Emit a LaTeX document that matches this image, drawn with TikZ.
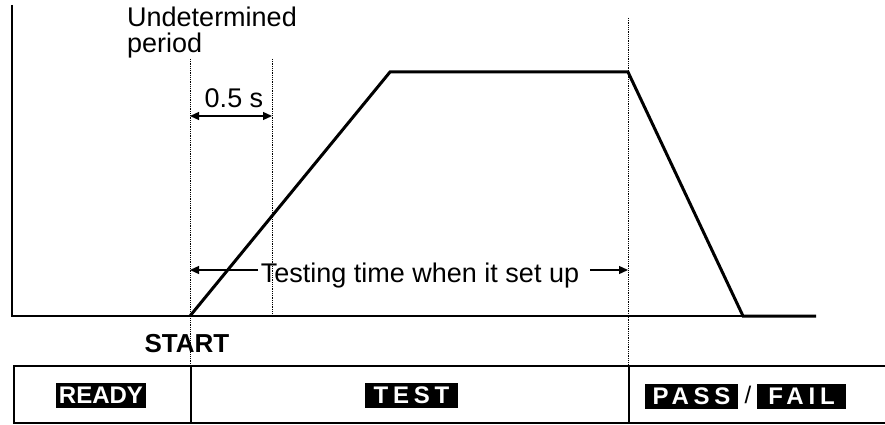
\documentclass[tikz,border=0pt]{standalone}
\usepackage{fontspec}
\setmainfont{Liberation Sans}
\usetikzlibrary{arrows.meta}
\begin{document}
\begin{tikzpicture}[x=1pt,y=-1pt,
  axis/.style={line width=2pt},
  wave/.style={line width=3pt, line join=miter},
  guide/.style={line width=0.8pt, densely dotted},
  dim/.style={line width=1.3pt, {Triangle[length=9pt,width=8pt]}-{Triangle[length=9pt,width=8pt]}},
  onearrow/.style={line width=1.3pt, -{Triangle[length=9pt,width=8pt]}},
  lbl/.style={inner sep=0pt, font=\fontsize{27}{26.5}\selectfont},
  boldlbl/.style={inner sep=0pt, font=\fontsize{26}{30}\selectfont\bfseries},
  tag/.style={fill=black, text=white, inner sep=0pt, minimum height=25pt,
    font=\fontsize{24}{26}\selectfont\bfseries},
  spaced/.style={font=\fontsize{24}{26}\selectfont\bfseries\addfontfeature{LetterSpace=20}},
  tableline/.style={line width=1.6pt}
]
\useasboundingbox (0,0) rectangle (885,425);

% axes and waveform
\coordinate (axtop) at (12,5);
\coordinate (orig) at (12,316);
\coordinate (axend) at (816,316);
\coordinate (w0) at (190,316);
\coordinate (w1) at (390,72);
\coordinate (w2) at (628,72);
\coordinate (w3) at (743,316);
\coordinate (w4) at (816,316);
\draw[axis] (axtop) -- (orig) -- (axend);
\draw[wave] (w0) -- (w1) -- (w2) -- (w3) -- (w4);

% guide lines
\coordinate (g1t) at (190,59);
\coordinate (g1b) at (190,366);
\coordinate (g2t) at (272,59);
\coordinate (g2b) at (272,316);
\coordinate (g3t) at (628,18);
\coordinate (g3b) at (628,366);
\draw[guide] (g1t) -- (g1b);
\draw[guide] (g2t) -- (g2b);
\draw[guide] (g3t) -- (g3b);

% labels
\node[lbl, anchor=base west, align=left] (und) at (127,53) {Undetermined\\period};
\node[lbl, anchor=base] (half) at (234,108) {0.5 s};
\coordinate (d1a) at (190,116);
\coordinate (d1b) at (272,116);
\draw[dim] (d1a) -- (d1b);

\node[lbl, anchor=base] (tt) at (420,282) {Testing time when it set up};
\coordinate (ta) at (190,270);
\coordinate (tl) at (258,270);
\coordinate (tr) at (590,270);
\coordinate (tb) at (628,270);
\draw[onearrow] (tl) -- (ta);
\draw[onearrow] (tr) -- (tb);

\node[boldlbl, anchor=base] (start) at (187,352) {START};

% status table
\coordinate (tl1) at (14,366);
\coordinate (tr1) at (885,366);
\coordinate (tl2) at (14,423);
\coordinate (tr2) at (885,423);
\coordinate (c1t) at (191,366);
\coordinate (c1b) at (191,423);
\coordinate (c2t) at (629,366);
\coordinate (c2b) at (629,423);
\draw[tableline] (tr1) -- (tl1) -- (tl2) -- (tr2);
\draw[tableline] (c1t) -- (c1b);
\draw[tableline] (c2t) -- (c2b);

\node[tag, minimum width=90pt] (ready) at (101,395) {READY};
\node[tag, spaced, minimum width=93pt] (test) at (411.5,395) {TEST};
\node[tag, spaced, minimum width=93pt] (pass) at (691.5,396) {PASS};
\node[inner sep=0pt, font=\fontsize{24}{26}\selectfont] (slash) at (748,395) {/};
\node[tag, spaced, minimum width=89pt] (fail) at (801.5,396) {FAIL};
\end{tikzpicture}
\end{document}
